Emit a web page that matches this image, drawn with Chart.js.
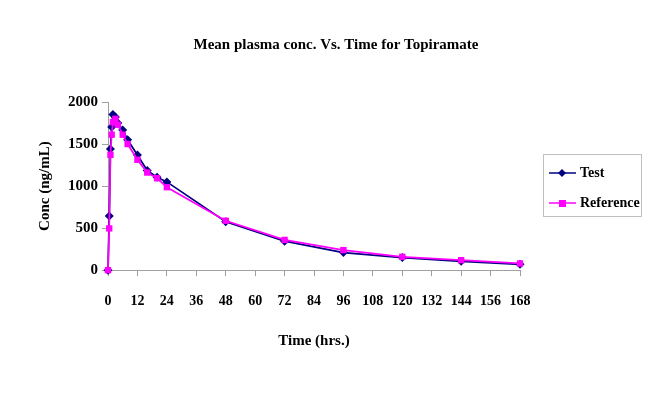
<!DOCTYPE html>
<html>
<head>
<meta charset="utf-8">
<script src="https://cdn.jsdelivr.net/npm/chart.js@4/dist/chart.umd.min.js"></script>
<style>
  body { margin: 0; background: #fff; }
  #wrap { width: 663px; height: 393px; }
</style>
</head>
<body>
<div id="wrap"><canvas id="pk"></canvas></div>
<script>
// sampling times (hrs)
const times = [0, 0.5, 1, 1.5, 2, 3, 4, 6, 8, 12, 16, 20, 24, 48, 72, 96, 120, 144, 168]
// mean plasma conc (ng/mL)
const testConc = [0, 644, 1440, 1703, 1850, 1822, 1750, 1667, 1551, 1369, 1185, 1106, 1050, 576, 345, 210, 150, 105, 70]
const refConc  = [0, 497, 1372, 1611, 1760, 1800, 1730, 1611, 1500, 1313, 1161, 1094, 987, 588, 360, 239, 159, 119, 80]
const seriesNames = ['Test', 'Reference']
const xTicks = [0, 12, 24, 36, 48, 60, 72, 84, 96, 108, 120, 132, 144, 156, 168]
const yTicks = [0, 500, 1000, 1500, 2000]
const chartTitle = 'Mean plasma conc. Vs. Time for Topiramate'

const serif = '"Liberation Serif", "Times New Roman", serif'

function toPoints(vals) {
  return times.map((t, i) => ({ x: t, y: vals[i] }))
}

// title centred on the whole page + legend box with line and marker
const decor = {
  id: 'decor',
  afterDraw(chart) {
    const ctx = chart.ctx
    ctx.save()
    ctx.fillStyle = '#000'
    ctx.font = 'bold 15px ' + serif
    ctx.textAlign = 'center'
    ctx.textBaseline = 'middle'
    ctx.fillText(chartTitle, 336, 45)

    const x0 = 543, y0 = 154, w = 98, h = 62
    ctx.strokeStyle = '#c0c0c0'
    ctx.lineWidth = 1
    ctx.strokeRect(x0 + 0.5, y0 + 0.5, w, h)
    ctx.textAlign = 'left'
    chart.data.datasets.forEach((ds, i) => {
      const cy = y0 + 19 + i * 30
      ctx.strokeStyle = ds.borderColor
      ctx.lineWidth = 1.5
      ctx.beginPath()
      ctx.moveTo(x0 + 6, cy)
      ctx.lineTo(x0 + 33, cy)
      ctx.stroke()
      ctx.fillStyle = ds.backgroundColor
      if (ds.pointStyle === 'rectRot') {
        ctx.beginPath()
        ctx.moveTo(x0 + 19, cy - 4)
        ctx.lineTo(x0 + 23, cy)
        ctx.lineTo(x0 + 19, cy + 4)
        ctx.lineTo(x0 + 15, cy)
        ctx.closePath()
        ctx.fill()
      } else {
        ctx.fillRect(x0 + 16, cy - 3, 7, 7)
      }
      ctx.fillStyle = '#000'
      ctx.font = 'bold 14px ' + serif
      ctx.fillText(ds.label, x0 + 37, cy)
    })
    ctx.restore()
  }
}

new Chart(document.getElementById('pk'), {
  type: 'line',
  data: {
    datasets: [
      {
        label: seriesNames[0],
        data: toPoints(testConc),
        borderColor: '#000080',
        backgroundColor: '#000080',
        borderWidth: 1.75,
        pointStyle: 'rectRot',
        pointRadius: 4.5,
        pointBorderWidth: 0,
        tension: 0,
        clip: false,
        order: 1
      },
      {
        label: seriesNames[1],
        data: toPoints(refConc),
        borderColor: '#ff00ff',
        backgroundColor: '#ff00ff',
        borderWidth: 1.75,
        pointStyle: 'rect',
        pointRadius: 4.5,
        pointBorderWidth: 0,
        tension: 0,
        clip: false,
        order: 0
      }
    ]
  },
  options: {
    responsive: true,
    maintainAspectRatio: false,
    animation: false,
    layout: { padding: { top: 102, right: 143, bottom: 39, left: 32 } },
    plugins: {
      legend: { display: false },
      tooltip: { enabled: false },
      title: { display: false }
    },
    scales: {
      x: {
        type: 'linear',
        min: 0,
        max: 168,
        afterBuildTicks: s => { s.ticks = xTicks.map(v => ({ value: v })) },
        grid: { display: true, drawOnChartArea: false, drawTicks: true, tickLength: 6, color: '#a0a0a0' },
        border: { color: '#a0a0a0' },
        ticks: { color: '#000', font: { family: serif, size: 14, weight: 'bold' }, padding: 17, maxRotation: 0, autoSkip: false, callback: v => String(v) },
        title: { display: true, text: 'Time (hrs.)', color: '#000', font: { family: serif, size: 15, weight: 'bold' }, padding: { top: 5 } }
      },
      y: {
        min: 0,
        max: 2000,
        afterBuildTicks: s => { s.ticks = yTicks.map(v => ({ value: v })) },
        grid: { display: true, drawOnChartArea: false, drawTicks: true, tickLength: 6, color: '#a0a0a0' },
        border: { color: '#a0a0a0' },
        ticks: { color: '#000', font: { family: serif, size: 15, weight: 'bold' }, padding: 4, callback: v => String(v) },
        title: { display: true, text: 'Conc (ng/mL)', color: '#000', font: { family: serif, size: 15, weight: 'bold' }, padding: { bottom: 10 } }
      }
    }
  },
  plugins: [decor]
});
</script>
</body>
</html>
